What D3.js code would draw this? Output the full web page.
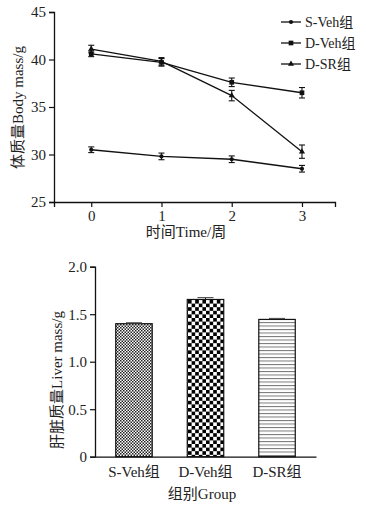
<!DOCTYPE html>
<html><head><meta charset="utf-8">
<script src="https://cdn.jsdelivr.net/npm/d3@7"></script>
<style>
body{margin:0;background:#fff;}
svg{display:block;}
text{font-family:"Liberation Serif","Times New Roman","Noto Sans CJK SC",serif;fill:#222;}
</style></head><body>
<svg id="c" width="366" height="507"></svg>
<script>
// ---- Data: body mass (line chart) ----
const weeks = [0, 1, 2, 3];
const series = ["S-Veh组", "D-Veh组", "D-SR组"];
const sVeh = [30.5, 29.8, 29.5, 28.5];
const sVehErr = [0.3, 0.35, 0.35, 0.35];
const dVeh = [40.6, 39.7, 37.6, 36.5];
const dVehErr = [0.3, 0.4, 0.45, 0.55];
const dSR = [41.1, 39.8, 36.2, 30.3];
const dSRErr = [0.4, 0.4, 0.55, 0.7];
const yTicksTop = [25, 30, 35, 40, 45];
// ---- Data: liver mass (bar chart) ----
const groups = ["S-Veh组", "D-Veh组", "D-SR组"];
const liver = [1.40, 1.655, 1.445];
const liverErr = [0.01, 0.02, 0.01];
const yTicksBot = [0, 0.5, 1.0, 1.5, 2.0];

const svg = d3.select("#c");
const col = "#111";
const FS = 15;

// ---------- Top line chart ----------
const x1 = d3.scaleLinear().domain([-0.53, 3.47]).range([54, 335]);
const y1 = d3.scaleLinear().domain([25, 45]).range([202, 12]);
const g1 = svg.append("g");

const yAx1 = g1.append("g").attr("transform","translate(54,0)")
  .call(d3.axisLeft(y1).tickValues(yTicksTop).tickSize(5).tickPadding(3).tickFormat(d3.format("d")));
const xAx1 = g1.append("g").attr("transform","translate(0,202)")
  .call(d3.axisBottom(x1).tickValues(weeks).tickSize(5).tickPadding(3).tickFormat(d3.format("d")));
[yAx1, xAx1].forEach(a=>{
  a.select(".domain").attr("stroke",col).attr("stroke-width",1.3);
  a.selectAll(".tick line").attr("stroke",col).attr("stroke-width",1.2);
  a.selectAll("text").attr("font-size",FS).style("font-family",'"Liberation Serif",serif').attr("fill","#222");
});

const sData = [
  {name:series[0], v:sVeh, e:sVehErr, shape:"circle"},
  {name:series[1], v:dVeh, e:dVehErr, shape:"square"},
  {name:series[2], v:dSR, e:dSRErr, shape:"triangle"}
];
const sym = {circle:d3.symbolCircle, square:d3.symbolSquare, triangle:d3.symbolTriangle};
const symSize = {circle:14, square:22, triangle:16};
const line = d3.line().x((d,i)=>x1(weeks[i])).y(d=>y1(d));

sData.forEach(s=>{
  g1.append("path").attr("d", line(s.v)).attr("fill","none").attr("stroke",col).attr("stroke-width",1.3);
  s.v.forEach((v,i)=>{
    const cx = x1(weeks[i]);
    const t = y1(v + s.e[i]), b = y1(v - s.e[i]);
    g1.append("line").attr("x1",cx).attr("x2",cx).attr("y1",t).attr("y2",b).attr("stroke",col).attr("stroke-width",1.1);
    [t,b].forEach(yy=>g1.append("line").attr("x1",cx-3).attr("x2",cx+3).attr("y1",yy).attr("y2",yy).attr("stroke",col).attr("stroke-width",1.1));
    g1.append("path").attr("d", d3.symbol().type(sym[s.shape]).size(symSize[s.shape])())
      .attr("transform",`translate(${cx},${y1(v)})`).attr("fill",col);
  });
});

// legend
sData.forEach((s,i)=>{
  const ly = 22 + i*21;
  g1.append("line").attr("x1",281).attr("x2",301).attr("y1",ly).attr("y2",ly).attr("stroke",col).attr("stroke-width",1.3);
  g1.append("path").attr("d", d3.symbol().type(sym[s.shape]).size(symSize[s.shape])())
    .attr("transform",`translate(291,${ly})`).attr("fill",col);
  g1.append("text").attr("x",305).attr("y",ly+5).attr("font-size",14).text(s.name);
});

g1.append("text").attr("x",186).attr("y",237).attr("text-anchor","middle").attr("font-size",FS).text("时间Time/周");
g1.append("text").attr("transform","translate(23,107.5) rotate(-90)").attr("text-anchor","middle").attr("font-size",FS).text("体质量Body mass/g");

// ---------- Bottom bar chart ----------
const defs = svg.append("defs");
// fine checker
const p1 = defs.append("pattern").attr("id","pFine").attr("patternUnits","userSpaceOnUse").attr("width",3).attr("height",3);
p1.append("rect").attr("width",3).attr("height",3).attr("fill","#fff");
p1.append("rect").attr("width",1.5).attr("height",1.5).attr("fill","#222");
p1.append("rect").attr("x",1.5).attr("y",1.5).attr("width",1.5).attr("height",1.5).attr("fill","#222");
// coarse checker
const p2 = defs.append("pattern").attr("id","pChk").attr("patternUnits","userSpaceOnUse").attr("width",7.2).attr("height",7.2).attr("x",188).attr("y",300);
p2.append("rect").attr("width",7.2).attr("height",7.2).attr("fill","#fff");
p2.append("rect").attr("width",3.6).attr("height",3.6).attr("fill","#000");
p2.append("rect").attr("x",3.6).attr("y",3.6).attr("width",3.6).attr("height",3.6).attr("fill","#000");
// horizontal lines
const p3 = defs.append("pattern").attr("id","pH").attr("patternUnits","userSpaceOnUse").attr("width",6).attr("height",3.5);
p3.append("rect").attr("width",6).attr("height",3.5).attr("fill","#fff");
p3.append("rect").attr("y",0).attr("width",6).attr("height",1).attr("fill","#777");
const fills = ["url(#pFine)","url(#pChk)","url(#pH)"];

const x2 = d3.scaleBand().domain(groups).range([95, 316]).paddingInner(0.49).paddingOuter(0.29);
const y2 = d3.scaleLinear().domain([0, 2]).range([456.7, 266.7]);
const g2 = svg.append("g");

groups.forEach((gname,i)=>{
  const bx = x2(gname), bw = x2.bandwidth();
  g2.append("rect").attr("x",bx).attr("y",y2(liver[i])).attr("width",bw).attr("height",y2(0)-y2(liver[i]))
    .attr("fill",fills[i]).attr("stroke",col).attr("stroke-width",1.2);
  const cx = bx + bw/2, t = y2(liver[i]+liverErr[i]);
  g2.append("line").attr("x1",cx).attr("x2",cx).attr("y1",t).attr("y2",y2(liver[i])).attr("stroke",col).attr("stroke-width",1);
  g2.append("line").attr("x1",cx-8).attr("x2",cx+8).attr("y1",t).attr("y2",t).attr("stroke","#555").attr("stroke-width",1.2);
});

const yAx2 = g2.append("g").attr("transform","translate(95,0)")
  .call(d3.axisLeft(y2).tickValues(yTicksBot).tickSize(5).tickPadding(3).tickFormat(d=>d===0?"0":d3.format(".1f")(d)));
const xAx2 = g2.append("g").attr("transform","translate(0,456.7)")
  .call(d3.axisBottom(x2).tickSize(0).tickPadding(10).tickSizeOuter(0));
[yAx2, xAx2].forEach(a=>{
  a.select(".domain").attr("stroke",col).attr("stroke-width",1.3);
  a.selectAll(".tick line").attr("stroke",col).attr("stroke-width",1.2);
  a.selectAll("text").attr("font-size",FS).style("font-family",'"Liberation Serif","Noto Sans CJK SC",serif').attr("fill","#222");
});

g2.append("text").attr("x",202).attr("y",499).attr("text-anchor","middle").attr("font-size",FS).text("组别Group");
g2.append("text").attr("transform","translate(62,380) rotate(-90)").attr("text-anchor","middle").attr("font-size",FS).text("肝脏质量Liver mass/g");
</script>
</body></html>
